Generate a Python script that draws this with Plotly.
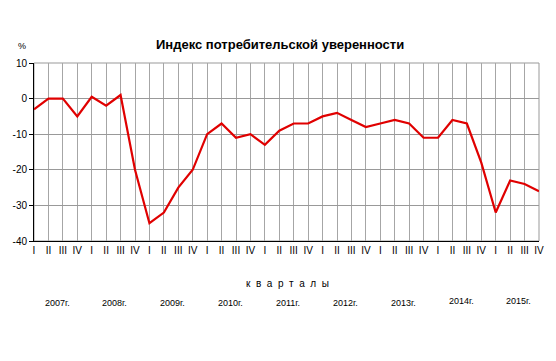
import plotly.graph_objects as go

quarters = ["I", "II", "III", "IV"] * 9
years = ["2007г.", "2008г.", "2009г.", "2010г.", "2011г.", "2012г.", "2013г.", "2014г.", "2015г."]
values = [-3, 0, 0, -5,
          0.5, -2, 1, -20,
          -35, -32, -25, -20,
          -10, -7, -11, -10,
          -13, -9, -7, -7,
          -5, -4, -6, -8,
          -7, -6, -7, -11,
          -11, -6, -7, -18,
          -32, -23, -24, -26]
y_ticks = [-40, -30, -20, -10, 0, 10]
y_ticktext = ["-40", "-30", "-20", "-10", "0", "10"]

x = list(range(len(values)))
font = "Liberation Sans, Arial, sans-serif"

W, H = 556, 361
ML, MR, MT, MB = 34, 17, 63, 120
plot_w = W - ML - MR
plot_h = H - MT - MB

def py(pix):
    return (H - MB - pix) / plot_h

def px(pix):
    return (pix - ML) / plot_w

fig = go.Figure()
fig.add_trace(go.Scatter(x=x, y=values, mode="lines",
                         line=dict(color="#e00000", width=2.2), hoverinfo="skip"))

fig.update_layout(
    width=W, height=H,
    margin=dict(l=ML, r=MR, t=MT, b=MB),
    paper_bgcolor="white", plot_bgcolor="white",
    showlegend=False,
    xaxis=dict(range=[0, 35], tickvals=x, ticktext=quarters,
               showgrid=True, gridcolor="#a6a6a6", gridwidth=1,
               showline=True, linecolor="#000", linewidth=1,
               ticks="", tickfont=dict(family=font, size=10, color="#000"),
               zeroline=False, fixedrange=True),
    yaxis=dict(range=[-40, 10], tickvals=y_ticks, ticktext=y_ticktext,
               showgrid=True, gridcolor="#999999", gridwidth=1,
               showline=True, linecolor="#000", linewidth=1,
               ticks="outside", ticklen=4, tickcolor="#000",
               tickfont=dict(family=font, size=10, color="#000"),
               zeroline=False, fixedrange=True),
)

anns = [
    dict(text="<b>Индекс потребительской уверенности</b>", x=px(280), xref="paper",
         y=py(44), yref="paper", xanchor="center", yanchor="middle", showarrow=False,
         font=dict(family=font, size=13, color="#000")),
    dict(text="%", x=px(22), xref="paper", y=py(46), yref="paper", showarrow=False,
         xanchor="center", yanchor="middle",
         font=dict(family=font, size=9, color="#000")),
    dict(text="к  в  а  р  т  а  л  ы", x=px(287), xref="paper", y=py(283), yref="paper",
         xanchor="center", yanchor="middle", showarrow=False,
         font=dict(family=font, size=10, color="#000")),
]
year_y = [303, 303, 303, 303, 303, 303, 303, 301, 301]
for i, yr in enumerate(years):
    anns.append(dict(text=yr, x=4 * i + 1.6, xref="x", y=py(year_y[i]), yref="paper",
                     xanchor="center", yanchor="middle", showarrow=False,
                     font=dict(family=font, size=9, color="#000")))
fig.update_layout(annotations=anns)
fig.add_shape(type="rect", xref="paper", yref="paper", x0=0, x1=1, y0=0, y1=1,
              line=dict(color="#999999", width=1), layer="below")

fig.write_html("out.html")
